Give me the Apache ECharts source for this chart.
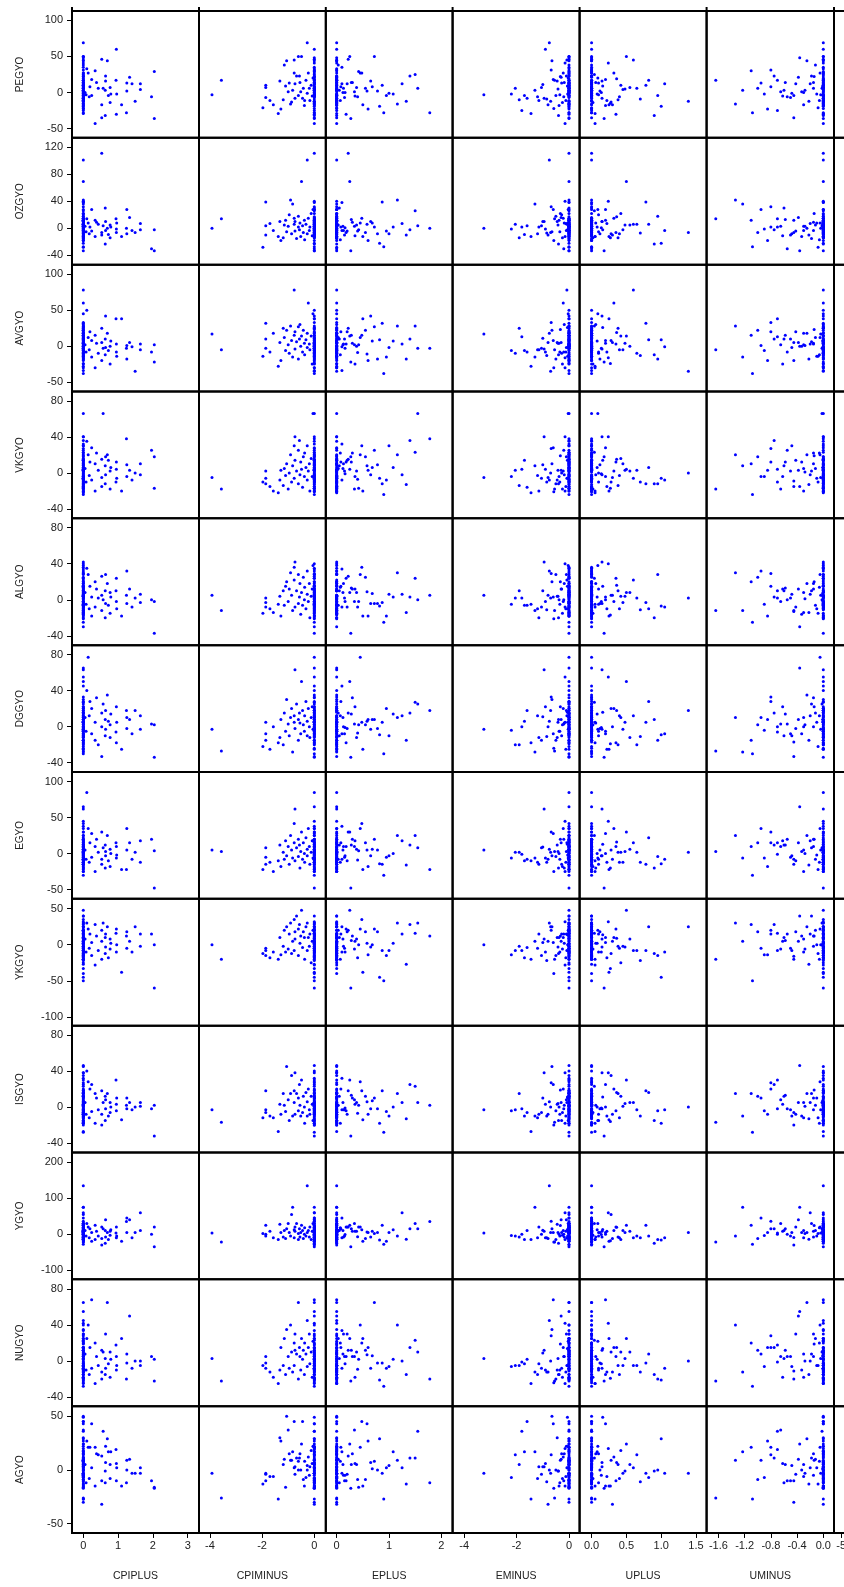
<!DOCTYPE html>
<html><head><meta charset="utf-8">
<script src="https://cdn.jsdelivr.net/npm/echarts@6/dist/echarts.min.js"></script>
<style>html,body{margin:0;padding:0;background:#fff}#c{width:844px;height:1587px}</style>
</head><body><div id="c"></div><script>
// Observations: signed surprises (plus part = positive values, minus part = negative values)
const CPI = [0.05,0.08,0.10,0.14,0.17,0.19,0.24,0.24,0.34,0.34,0.38,0.43,0.53,0.53,0.53,0.57,0.63,0.63,0.64,0.64,0.69,0.72,0.77,0.77,0.79,0.94,0.95,0.95,0.96,1.10,1.24,1.25,1.25,1.33,1.40,1.49,1.64,1.64,1.96,2.04,2.04,
-3.92,-3.56,-1.97,-1.86,-1.86,-1.86,-1.70,-1.57,-1.38,-1.32,-1.28,-1.19,-1.15,-1.10,-1.06,-1.00,-0.96,-0.91,-0.87,-0.83,-0.77,-0.77,-0.74,-0.74,-0.68,-0.61,-0.61,-0.57,-0.55,-0.52,-0.49,-0.45,-0.42,-0.38,-0.37,-0.32,-0.27,-0.27,-0.23,-0.19,-0.17,-0.12,-0.08,-0.05,
0,0,0,0,0,0,0,0,0,0,0,0,0,0,0,0,0,0,0,0,0,0,0,0,0];
const E = [0.12,-0.35,0,0.45,-1.2,0.08,-0.6,0.95,0,-0.15,
0.3,-2.05,0.22,0,-0.8,1.55,-0.4,0.05,-0.1,0.65,
0,-1.7,0.38,-0.25,1.08,0,-0.9,0.18,-0.05,0.5,
1.78,0,0.78,-0.3,0.1,-0.7,1.25,0,-0.2,0.42,
0.27,-3.25,-0.55,0,0.87,-1.05,0.15,-0.12,0,-1.45,
-0.45,0.6,-1.9,0.03,0,-0.65,0.34,-0.28,1.16,0,
-1.3,0.48,-0.08,0.2,-0.95,0,0.72,-0.5,1.4,-0.18,
0,0.25,-1.6,0.55,-0.38,0.07,0,-0.75,1.0,-0.22,
0.13,-1.15,0,0.35,-0.03,0.9,-0.58,0,1.33,-0.85,
0.4,-2.2,0.16,0,-0.42,0.68,-1.0,0.28,0,-0.33,
1.5,-0.68,0.1,-0.15,0,0.82,-1.8,0.58,-0.06,0];
const U = [-0.3,0.1,0,-0.05,0.4,-0.8,0.2,0,-1.1,0.05,
-0.15,0.65,0,-0.45,0.3,-0.02,0.9,-0.6,0,0.15,
-0.25,0,0.55,0.02,0.08,-0.7,0,0.35,-0.1,0.25,
0,-0.95,0.12,-0.38,1.05,1.39,-0.2,0.45,-0.55,0,
0.18,-0.04,-1.64,-0.08,0.78,0,-0.5,0.22,-0.3,0.05,
0,-0.85,0.38,-0.12,0,0,-0.65,0.1,-1.34,0.28,
-1.23,0,0.6,-0.42,0.15,-0.18,0,0.95,-0.75,0.06,
-0.33,0.5,0,-1.0,0.2,-0.06,0.82,0,-0.48,0.32,
-0.15,0,0.42,-0.62,0.09,-1.08,0,0.27,-0.22,0.7,
0,-0.9,0.14,-0.28,0.48,-0.01,0,-0.58,0.36,-0.14,
0.04,-0.8,0,0.24,-0.36,1.0,-0.7,0,0.16,-0.45];

const PEGYO = [0,-3,33,27,-6,8,18,-4,30,-43,14,6,46,-35,-17,6,-32,3,23,16,44,-4,7,-14,-2,17,60,-30,-2,-17,-28,13,2,21,12,-12,12,4,-6,29,-36,
-3,17,-21,10,7,-7,-11,-17,-29,16,-23,-10,38,9,44,1,13,-16,-13,3,27,45,12,-8,23,50,-4,23,14,1,50,-8,6,-18,-11,17,69,-1,27,6,-11,10,-5,20,
-28,-22,-15,-12,-9,-6,-2,0,3,5,8,11,14,19,22,25,31,35,41,48,-19,-25,2,9,-4];
const OZGYO = [3,-5,14,8,-8,2,28,-4,12,-12,9,6,111,-6,-10,4,-23,30,-3,10,0,-9,5,-14,2,14,-1,-6,8,-12,0,28,-8,16,-3,-6,7,-2,-30,-2,-33,
0,14,-28,39,4,-10,7,-3,-12,10,-18,-14,5,12,-5,3,20,42,-8,36,15,6,-4,10,-15,2,18,-2,8,-12,69,4,-6,12,-17,6,101,-8,15,-3,2,22,-11,28,
-27,-18,-14,-10,-7,-4,-1,1,3,5,8,10,13,17,22,26,32,38,40,-33,-22,2,6,-2,12];
const AVGYO = [2,-8,50,12,-5,20,8,-15,15,-30,4,-10,25,-20,5,-3,-12,10,-2,42,18,-6,0,-25,7,38,-8,3,-14,38,-3,1,-18,5,-1,-35,3,-5,-8,2,-22,
17,-5,-14,32,-3,10,-8,18,-28,5,-20,25,12,-6,22,2,-10,28,8,-15,15,78,20,-4,6,27,-18,10,30,0,14,-8,22,4,-12,9,18,-2,60,3,-5,14,-25,45,
-38,-30,-24,-18,-13,-9,-6,-3,1,4,7,11,15,19,23,28,33,-34,-16,0,9,13,-11,26,5];
const VKGYO = [5,-10,35,20,-3,12,28,-8,10,-20,22,3,15,-15,-5,66,-12,8,18,-2,20,14,2,-18,6,-10,4,12,-6,-20,38,-4,9,3,-8,0,-2,10,25,-17,18,
-5,-18,-10,-12,-6,2,-15,-20,-22,-8,3,-14,5,-3,10,-18,0,20,-10,8,30,-6,14,40,2,25,-12,36,-2,12,4,-16,18,-4,22,6,-8,30,2,10,-20,16,-4,66,
-24,-21,-17,-13,-10,-7,-4,-1,1,3,6,9,12,15,19,23,27,32,40,-15,-6,4,8,14,-9];
const ALGYO = [8,-5,35,28,-10,15,3,-18,20,-8,12,2,26,-12,5,0,-20,10,28,-4,18,-6,8,-15,3,10,-2,24,-10,-18,5,32,-4,12,-8,2,6,-3,0,-2,-37,
5,-12,-15,-3,-8,2,-10,-14,-5,4,-18,10,-6,15,20,-2,12,30,5,-12,36,22,-8,42,10,-4,28,3,18,-16,8,-6,25,0,14,-10,32,6,-2,18,-20,4,12,38,
-25,-21,-17,-14,-11,-8,-5,-2,1,4,7,10,13,16,20,24,29,34,40,-30,-7,2,9,15,-13];
const DGGYO = [10,-5,40,77,12,28,-8,20,-15,5,32,-20,15,-33,0,25,8,-10,18,-3,35,6,-12,2,14,-6,22,-18,5,-25,18,10,-2,8,-8,18,12,-3,3,2,-34,
-3,-27,-22,5,-15,-8,-25,0,-18,-12,8,-20,15,-5,30,3,-10,10,20,-28,5,12,-2,63,25,8,-15,15,4,-8,50,18,2,-5,12,28,6,-10,20,0,-12,10,22,-3,
-30,-24,-19,-15,-11,-7,-4,-1,2,5,8,11,14,18,22,27,33,45,55,65,-9,0,6,16,-17];
const EGYO = [5,-8,85,35,-12,15,28,-5,10,-25,20,2,30,-15,-8,8,-20,12,3,-3,25,-10,6,-18,0,15,-6,10,-2,-22,-22,35,5,15,-8,2,18,-12,20,4,-48,
5,3,-22,-15,8,-5,-12,-25,-10,12,-18,2,-8,18,-3,10,-15,25,5,-6,42,15,-10,62,8,20,-4,12,-20,3,30,-8,15,0,-12,22,6,-3,35,10,-15,2,18,-6,
-30,-25,-20,-16,-12,-9,-6,-3,0,3,6,9,12,16,20,25,30,38,45,65,-14,-1,5,13,-8];
const YKGYO = [8,-10,30,22,-5,15,3,-15,28,-28,12,-8,20,-20,5,30,-12,10,15,-3,25,-18,8,-6,2,16,-10,22,0,-38,12,-5,18,5,-10,25,15,-2,15,0,-60,
0,-20,-12,-8,-15,-5,-18,-10,-20,10,-14,-2,20,-10,25,-6,15,30,-12,5,35,-8,18,8,40,22,-15,28,2,12,48,-4,18,10,-20,25,30,-8,10,-2,15,-25,5,20,
-50,-40,-33,-27,-22,-18,-14,-10,-6,-3,0,3,6,9,12,16,20,25,32,40,-45,-8,2,14,-16];
const ISGYO = [5,-8,40,28,-12,20,25,-5,15,-18,10,-3,18,-20,-8,5,-15,12,8,-2,15,-10,5,-6,0,30,3,-4,10,-14,2,10,-2,5,-3,0,5,1,-2,2,-32,
-3,-17,-12,18,-6,-3,-10,-12,-27,3,-8,15,2,-5,45,8,-15,15,35,-10,18,5,-8,38,15,10,-4,25,2,-10,30,-6,12,0,-18,16,6,-10,20,-3,-8,12,3,-15,
-28,-20,-16,-13,-10,-7,-4,-1,1,4,7,10,13,16,19,23,27,32,38,46,-18,-2,6,11,-6];
const YGYO = [10,-5,30,20,-10,15,5,-20,25,-15,8,-5,20,-30,-12,15,-25,10,40,-8,5,-15,8,-3,12,3,-10,20,-5,-20,35,45,5,40,-10,5,60,10,0,20,-35,
3,-22,2,25,0,-5,8,-10,-15,28,5,-8,10,-12,15,30,5,-5,55,75,12,-10,20,8,30,2,-15,15,-8,5,25,10,-12,0,18,-5,135,5,10,-8,20,-15,8,30,
-28,-22,-18,-14,-10,-7,-4,-1,2,5,8,11,15,19,24,30,36,45,60,75,-16,0,6,13,-9];
const NUGYO = [8,-10,25,40,-15,15,68,-8,20,-25,5,-5,12,-20,-12,10,-15,3,30,-8,65,-3,10,-18,2,18,-10,5,-5,25,-20,8,-2,50,-8,0,0,-5,5,2,-22,
3,-22,-5,-2,-8,5,-12,-18,-25,-10,15,-5,25,-15,35,5,-8,40,10,-12,20,-5,30,12,8,65,-20,15,5,-10,25,2,12,-15,20,8,45,-6,15,30,-3,10,-18,22,
-28,-24,-19,-15,-12,-9,-6,-3,0,3,6,9,12,15,19,23,28,34,42,55,-21,-1,7,14,-11];
const AGYO = [5,-12,27,21,-8,21,43,2,21,-15,15,14,13,-10,-32,36,-1,-12,22,7,29,17,5,-8,17,19,6,-10,2,-15,-12,9,0,10,-3,-3,2,-3,-10,-16,-17,
-3,-26,-13,-3,-4,-10,-6,-6,-27,30,27,5,10,-16,50,37,15,9,9,17,45,2,-4,3,11,8,0,11,15,0,24,45,-9,-15,8,-7,0,4,12,-5,3,18,6,22,
-27,-17,-15,-13,-11,-9,-7,-5,-3,-1,1,3,5,7,9,11,14,17,20,24,29,36,43,49,-30];

const X_NAMES = ['CPIPLUS','CPIMINUS','EPLUS','EMINUS','UPLUS','UMINUS'];
const Y_NAMES = ['PEGYO','OZGYO','AVGYO','VKGYO','ALGYO','DGGYO','EGYO','YKGYO','ISGYO','YGYO','NUGYO','AGYO'];
const X_TICKS = [[0,1,2,3],[-4,-2,0],[0,1,2],[-4,-2,0],[0,0.5,1,1.5],[-1.6,-1.2,-0.8,-0.4,0]];
const Y_TICKS = [[-50,0,50,100],[-40,0,40,80,120],[-50,0,50,100],[-40,0,40,80],[-40,0,40,80],[-40,0,40,80],
                 [-50,0,50,100],[-100,-50,0,50],[-40,0,40,80],[-100,0,100,200],[-40,0,40,80],[-50,0,50]];

// derived plus/minus parts of the signed surprises
const pos = a => a.map(v => v > 0 ? v : 0);
const neg = a => a.map(v => v < 0 ? v : 0);
const XCOLS = [pos(CPI), neg(CPI), pos(E), neg(E), pos(U), neg(U)];
const YROWS = [PEGYO,OZGYO,AVGYO,VKGYO,ALGYO,DGGYO,EGYO,YKGYO,ISGYO,YGYO,NUGYO,AGYO];

// layout
const colX = [72,199,325.8,452.6,579.6,706.6,834];
const rowTop = 11, rowH = 126.83;
const xRange = [[-0.325,3.325],[-4.418,0.441],[-0.208,2.216],[-4.443,0.405],[-0.172,1.652],[-1.78,0.163]];
const yRange = [[-62.8,112.9],[-53.6,133.6],[-63.1,113.4],[-50.4,90.3],[-50.3,90.3],[-50.3,90.4],
                [-62.9,113.5],[-112.2,63.7],[-50.4,90.3],[-125.8,227.8],[-50,90.8],[-58.6,59.3]];
const FONT = "'Liberation Sans', Arial, sans-serif";
const TXT = '#222';

const grids=[], xAxes=[], yAxes=[], series=[];
for (let r=0;r<12;r++){
  for (let c=0;c<7;c++){
    const gi = grids.length;
    const w = c<6 ? colX[c+1]-colX[c] : 127;
    grids.push({left:colX[c], top:rowTop+r*rowH, width:w, height:rowH, show:true,
      borderColor:'#000', borderWidth:2, backgroundColor:'transparent', containLabel:false, outerBoundsMode:'none'});
    const bottom = r===11;
    const xr = c<6 ? xRange[c] : [-5.3,0];
    const xt = c<6 ? X_TICKS[c] : [-5];
    const fmt = (c===4||c===5) ? (v=>Number(v).toFixed(1)) : (v=>String(v));
    xAxes.push({type:'value', gridIndex:gi, min:xr[0], max:xr[1], position:'bottom',
      splitLine:{show:false},
      axisLine:{show:bottom, onZero:false, lineStyle:{color:'#000',width:2}},
      axisTick:{show:bottom, customValues:xt, length:5, lineStyle:{color:'#000',width:1}},
      axisLabel:{show:bottom, customValues:xt, formatter:fmt, margin:8, fontSize:11, color:TXT, fontFamily:FONT},
      name: (bottom && c<6) ? X_NAMES[c] : '', nameLocation:'middle', nameGap:38,
      nameTextStyle:{fontSize:10.5, color:TXT, fontFamily:FONT}});
    const left = c===0;
    yAxes.push({type:'value', gridIndex:gi, min:yRange[r][0], max:yRange[r][1], position:'left',
      splitLine:{show:false},
      axisLine:{show:left, onZero:false, lineStyle:{color:'#000',width:2}},
      axisTick:{show:left, customValues:Y_TICKS[r], length:5, lineStyle:{color:'#000',width:1}},
      axisLabel:{show:left, customValues:Y_TICKS[r], margin:9, fontSize:11, color:TXT, fontFamily:FONT},
      name: left ? Y_NAMES[r] : '', nameLocation:'middle', nameGap:47, nameRotate:90,
      nameTextStyle:{fontSize:10, color:TXT, fontFamily:FONT}});
    if (c<6){
      const xs = XCOLS[c], ys = YROWS[r];
      series.push({type:'scatter', xAxisIndex:gi, yAxisIndex:gi, symbol:'circle', symbolSize:3,
        itemStyle:{color:'#0000ff', opacity:1}, silent:true, animation:false,
        data: xs.map((x,i)=>[x, ys[i]])});
    }
  }
}
const graphic = colX.map(x => ({type:'line', shape:{x1:x,y1:7,x2:x,y2:rowTop}, style:{stroke:'#000', lineWidth:2}, silent:true}));

const chart = echarts.init(document.getElementById('c'), null, {renderer:'canvas'});
chart.setOption({backgroundColor:'#fff', animation:false, grid:grids, xAxis:xAxes, yAxis:yAxes, series:series, graphic:graphic});
</script></body></html>
